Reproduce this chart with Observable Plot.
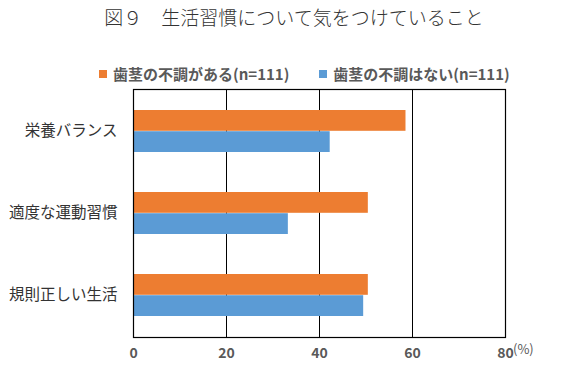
<!DOCTYPE html>
<html>
<head>
<meta charset="utf-8">
<script src="https://cdn.jsdelivr.net/npm/d3@7"></script>
<script src="https://cdn.jsdelivr.net/npm/@observablehq/plot@0.6"></script>
<style>
  html, body { margin: 0; padding: 0; background: #fff; }
  #wrap { position: relative; width: 580px; height: 369px; font-family: "Noto Sans CJK JP", "Noto Sans", sans-serif; }
  #title { position: absolute; left: 0; top: 3px; width: 580px; text-align: center; font-size: 19px; font-weight: 300; color: #333; white-space: pre; padding-left: 4px; }
  #legend { position: absolute; left: 99px; top: 63px; display: flex; align-items: center; font-size: 15px; font-weight: bold; color: #595959; white-space: nowrap; }
  .item { display: flex; align-items: center; margin-right: 30px; }
  .sw { width: 8px; height: 8px; margin-right: 6px; }
  #unit { position: absolute; left: 513px; top: 339px; font-size: 13px; color: #595959; }
  svg { position: absolute; left: 0; top: 0; }
</style>
</head>
<body>
<div id="wrap">
  <div id="chart"></div>
  <div id="title"></div>
  <div id="legend"></div>
  <div id="unit"></div>
</div>
<script>
const titleText = "図９　生活習慣について気をつけていること";
const categories = ["栄養バランス", "適度な運動習慣", "規則正しい生活"];
const series = ["歯茎の不調がある(n=111)", "歯茎の不調はない(n=111)"];
const withIssue = [58.6, 50.5, 50.5];
const withoutIssue = [42.3, 33.3, 49.5];
const xTicks = [0, 20, 40, 60, 80];
const gridTicks = [20, 40, 60];
const colors = ["#ED7D31", "#5B9BD5"];
const unitLabel = "(%)";

const W = 580, H = 369;
const mTop = 89, mBottom = 32, mLeft = 133, mRight = 75;
const pInner = 0.487;
const step = (H - mTop - mBottom) / categories.length;
const half = step * (1 - pInner) / 2;

const rowsA = categories.map((c, i) => ({cat: c, v: withIssue[i]}));
const rowsB = categories.map((c, i) => ({cat: c, v: withoutIssue[i]}));

const chart = Plot.plot({
  width: W, height: H,
  marginTop: mTop, marginBottom: mBottom, marginLeft: mLeft, marginRight: mRight,
  style: {fontFamily: '"Noto Sans CJK JP", "Noto Sans", sans-serif', background: "#fff"},
  x: {domain: [0, 80]},
  y: {domain: categories, paddingInner: pInner, paddingOuter: pInner / 2},
  marks: [
    Plot.ruleX(gridTicks, {stroke: "#000", strokeWidth: 1}),
    Plot.barX(rowsA, {y: "cat", x: "v", fill: colors[0], insetBottom: half, insetTop: 0}),
    Plot.barX(rowsB, {y: "cat", x: "v", fill: colors[1], insetTop: half, insetBottom: 0}),
    Plot.frame({stroke: "#000", strokeWidth: 1.2}),
    Plot.axisX({ticks: xTicks, tickSize: 0, tickPadding: 11, fontSize: 14, fontWeight: "bold", fill: "#595959", label: null}),
    Plot.axisY({tickSize: 0, tickPadding: 16, fontSize: 15.5, fill: "#333", label: null})
  ]
});
document.getElementById("chart").appendChild(chart);

document.getElementById("title").textContent = titleText;
document.getElementById("unit").textContent = unitLabel;
const legend = document.getElementById("legend");
series.forEach((s, i) => {
  const item = document.createElement("div");
  item.className = "item";
  const sw = document.createElement("span");
  sw.className = "sw";
  sw.style.background = colors[i];
  const t = document.createElement("span");
  t.textContent = s;
  item.appendChild(sw); item.appendChild(t);
  legend.appendChild(item);
});
</script>
</body>
</html>
